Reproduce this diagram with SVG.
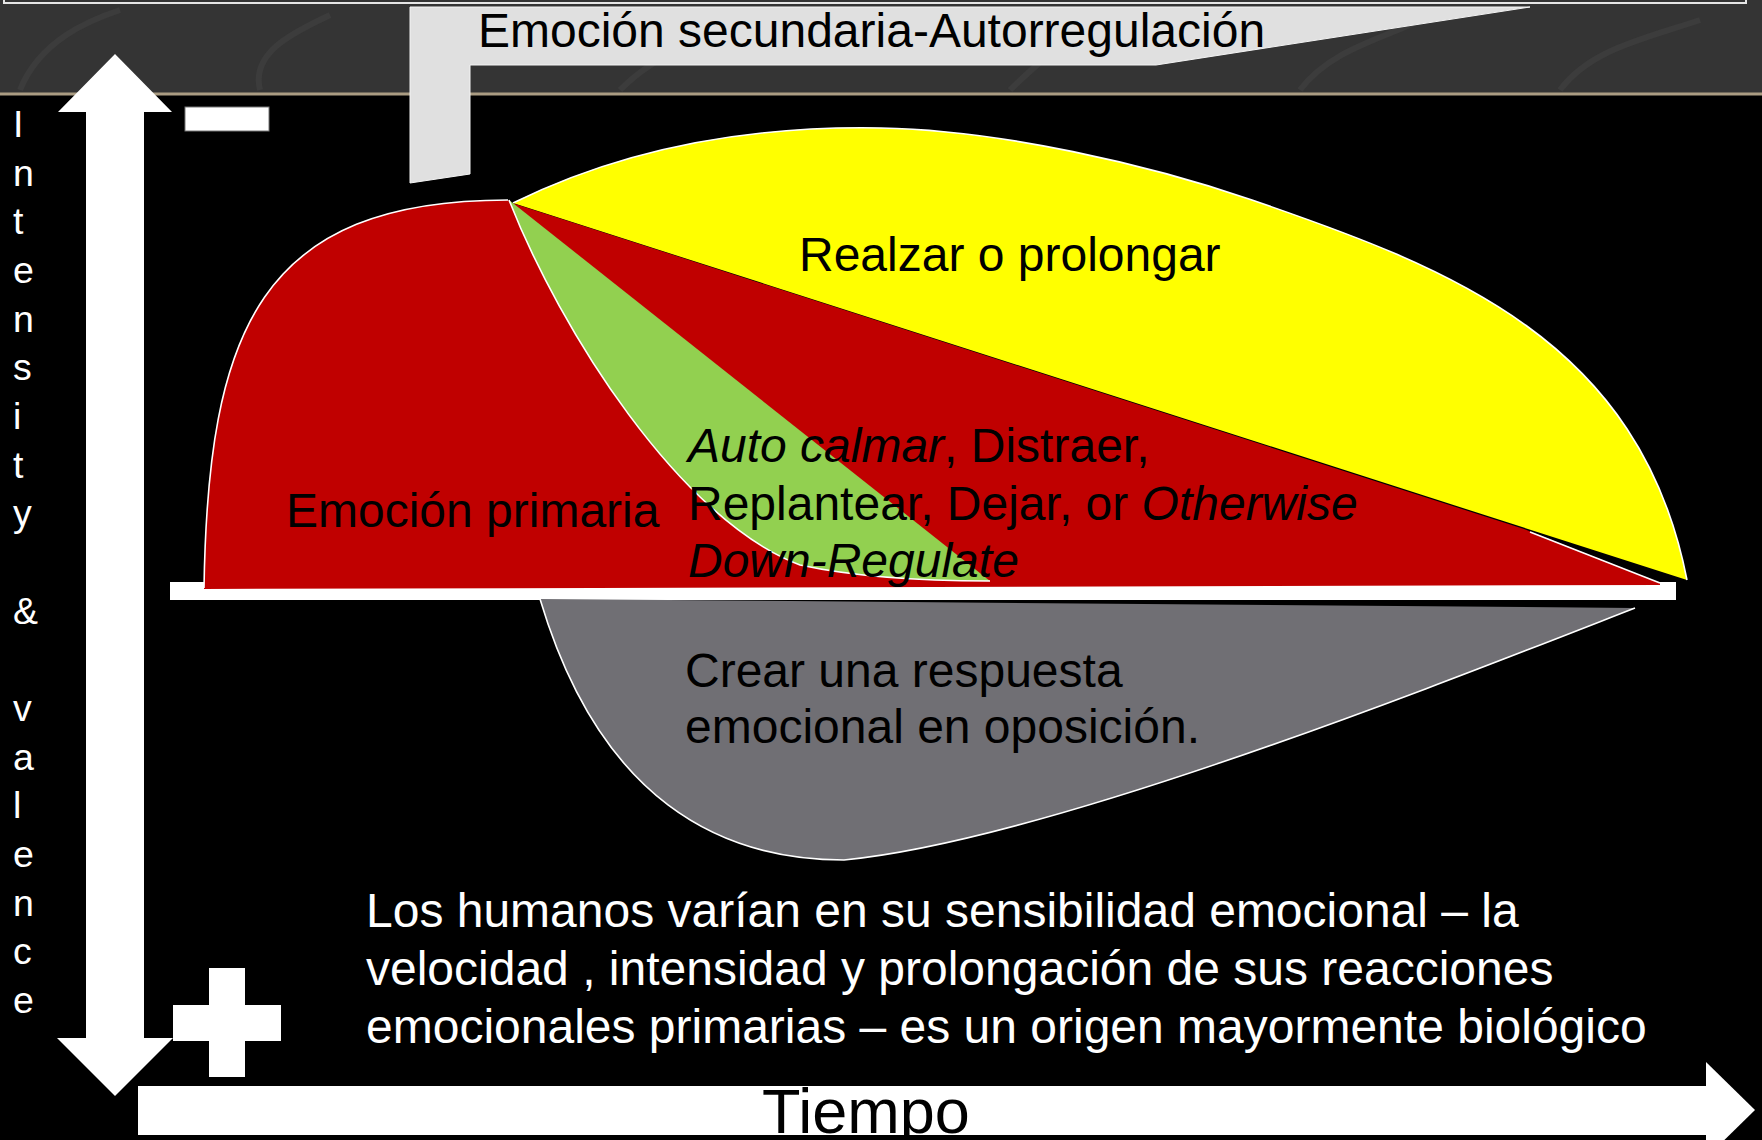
<svg xmlns="http://www.w3.org/2000/svg" width="1762" height="1140" viewBox="0 0 1762 1140">
<style>
.t{font-family:"Liberation Sans",Arial,sans-serif;font-size:48px;fill:#000}
.w{fill:#fff}
.v{font-family:"Liberation Sans",Arial,sans-serif;font-size:37.5px;fill:#fff}
.tm{font-family:"Liberation Sans",Arial,sans-serif;font-size:63px;fill:#000}
.edge{fill:none;stroke:#fff;stroke-width:1.6}
</style>
<rect x="0" y="0" width="1762" height="1140" fill="#000"/>
<g id="header">
<rect x="0" y="0" width="1762" height="94" fill="#343434"/>
<g fill="none" stroke="#3c3c3c" stroke-width="6">
<path d="M20 90 C40 40 90 20 120 10"/>
<path d="M260 90 C250 50 300 30 330 15"/>
<path d="M620 90 C660 50 700 40 760 30"/>
<path d="M1010 90 C1040 60 1080 30 1100 10"/>
<path d="M1300 90 C1330 50 1380 40 1420 20"/>
<path d="M1560 90 C1590 50 1640 40 1700 20"/>
</g>
<rect x="0" y="92.5" width="1762" height="3" fill="#aa9c82"/>
<path d="M4 -2 V3 H1746 V-2" fill="none" stroke="#e6e6e6" stroke-width="2"/>
</g>
<g id="callout-secundaria">
<path d="M410 7 H1530 L1156 65 H470 V174 L410 183 Z" fill="#e0e0e0" stroke="#f4f4f4" stroke-width="1"/>
<text class="t" x="478" y="47">Emoción secundaria-Autorregulación</text>
</g>
<g id="axes">
<path d="M115 54 L172 112 H144 V1038 H173 L115 1096 L57 1038 H86 V112 H58 Z" fill="#fff"/>
<rect x="138" y="1086" width="1569" height="49" fill="#fff"/>
<path d="M1706 1062 L1755 1110 L1706 1158 Z" fill="#fff"/>
<text class="tm" x="762" y="1133">Tiempo</text>
</g>
<g id="sign-minus"><rect x="185" y="107" width="84" height="24" fill="#fff" stroke="#777" stroke-width="1"/></g>
<g id="sign-plus" fill="#fff">
<rect x="209" y="968" width="36" height="109"/>
<rect x="173" y="1005" width="108" height="36"/>
</g>
<g id="label-axis">
<text class="v" x="13" y="137">I</text>
<text class="v" x="13" y="185.7">n</text>
<text class="v" x="13" y="234.3">t</text>
<text class="v" x="13" y="283">e</text>
<text class="v" x="13" y="331.7">n</text>
<text class="v" x="13" y="380.4">s</text>
<text class="v" x="13" y="429">i</text>
<text class="v" x="13" y="477.7">t</text>
<text class="v" x="13" y="526.4">y</text>
<text class="v" x="13" y="623.7">&amp;</text>
<text class="v" x="13" y="721">v</text>
<text class="v" x="13" y="769.7">a</text>
<text class="v" x="13" y="818.4">l</text>
<text class="v" x="13" y="867">e</text>
<text class="v" x="13" y="915.7">n</text>
<text class="v" x="13" y="964.4">c</text>
<text class="v" x="13" y="1013">e</text>
</g>
<g id="baseline-bar"><rect x="170" y="582" width="1506" height="18" fill="#fff"/></g>
<g id="shape-realzar">
<path d="M513 203 C600 160 720 125 881 128 C1000 130 1150 165 1252 200 C1450 268 1640 340 1687 580 Z" fill="#ffff00"/>
<path class="edge" d="M513 203 C600 160 720 125 881 128 C1000 130 1150 165 1252 200 C1450 268 1640 340 1687 580"/>
<text class="t" x="799" y="271">Realzar o prolongar</text>
</g>
<g id="shape-primaria">
<path d="M204 588 C208 330 260 200 508 200 L512 203 L1524 529 L1660 583 L1660 585 L204 589 Z" fill="#c00000"/>
<path class="edge" d="M204 588 C208 330 260 200 508 200"/>
<path class="edge" d="M1530 532 L1660 583"/>
<text class="t" x="286" y="527">Emoción primaria</text>
</g>
<g id="shape-calmar">
<path d="M509 200 L990 581 C930 581 860 578 800 565 C680 520 560 330 509 200 Z" fill="#92d050"/>
<path class="edge" d="M990 581 C930 581 860 578 800 565 C680 520 560 330 509 200"/>
<text class="t" x="688" y="462"><tspan font-style="italic">Auto calmar</tspan>, Distraer,</text>
<text class="t" x="688" y="520">Replantear, Dejar, or <tspan font-style="italic">Otherwise</tspan></text>
<text class="t" x="688" y="577" font-style="italic">Down-Regulate</text>
</g>
<g id="shape-oposicion">
<path d="M540 599 L1635 608 C1450 680 1050 840 844 860 C720 860 600 800 540 599 Z" fill="#706f74"/>
<path class="edge" d="M1635 608 C1450 680 1050 840 844 860 C720 860 600 800 540 599"/>
<text class="t" x="685" y="687">Crear una respuesta</text>
<text class="t" x="685" y="743">emocional en oposición.</text>
</g>
<g id="note">
<text class="t w" x="366" y="927">Los humanos varían en su sensibilidad emocional – la</text>
<text class="t w" x="366" y="985">velocidad , intensidad y prolongación de sus reacciones</text>
<text class="t w" x="366" y="1043">emocionales primarias – es un origen mayormente biológico</text>
</g>
</svg>
